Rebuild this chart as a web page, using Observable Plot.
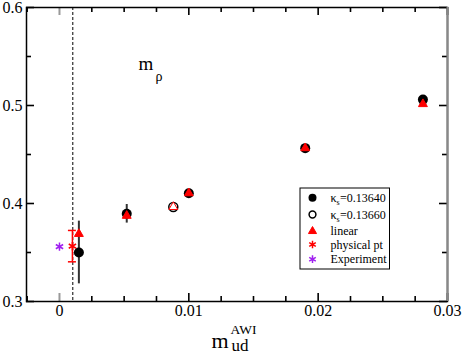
<!DOCTYPE html>
<html><head><meta charset="utf-8">
<script src="https://cdn.jsdelivr.net/npm/d3@7"></script>
<script src="https://cdn.jsdelivr.net/npm/@observablehq/plot@0.6"></script>
<style>
body{margin:0;background:#fff;font-family:"Liberation Serif",serif;}
#wrap svg text{font-family:"Liberation Serif",serif;}
#wrap svg text.sym{font-family:"DejaVu Sans",sans-serif;}
</style></head><body>
<div id="wrap"></div>
<script>
// ---- data ----
const k1X = [0.0015, 0.0052, 0.0100, 0.0190, 0.0281];
const k1Y = [0.350, 0.3895, 0.4105, 0.4565, 0.5060];
const k1Err = [0.032, 0.0095, 0.003, 0.003, 0.003];
const k2X = [0.0088];
const k2Y = [0.3965];
const k2Err = [0.003];
const linX = [0.0015, 0.0052, 0.0088, 0.0100, 0.0190, 0.0281];
const linY = [0.369, 0.3875, 0.3965, 0.4105, 0.4565, 0.5015];
const linOpen = [false, false, true, false, false, false];
const physX = [0.0010];
const physY = [0.3565];
const physErr = [0.016];
const expX = [0.0];
const expY = [0.3560];
const chiralX = [0.00103];
const xMajor = [0, 0.01, 0.02, 0.03];
const xMinor = [-0.0025, 0.0025, 0.005, 0.0075, 0.0125, 0.015, 0.0175, 0.0225, 0.025, 0.0275];
const yMajor = [0.3, 0.4, 0.5, 0.6];
const yMinor = [0.35, 0.45, 0.55];
const xTickLabels = ["0", "0.01", "0.02", "0.03"];
const yTickLabels = ["0.3", "0.4", "0.5", "0.6"];
const titleMain = "m", titleSub = "ρ";
const xLabelMain = "m", xLabelSub = "ud", xLabelSup = "AWI";
const legendNames = ["κ", "κ", "linear", "physical pt", "Experiment"];
const legendSubs = ["s", "s", "", "", ""];
const legendRest = ["=0.13640", "=0.13660", "", "", ""];

const k1 = k1X.map((x,i)=>({x, y:k1Y[i], e:k1Err[i]}));
const k2 = k2X.map((x,i)=>({x, y:k2Y[i], e:k2Err[i]}));
const lin = linX.map((x,i)=>({x, y:linY[i], open:linOpen[i]}));
const phys = physX.map((x,i)=>({x, y:physY[i], e:physErr[i]}));
const exp = expX.map((x,i)=>({x, y:expY[i]}));
const xNonZero = xMajor.filter(d=>d!==0);
const xZero = xMajor.filter(d=>d===0);
const FONT = "Liberation Serif";

const W = 463, H = 353, ML = 26, MR = 16, MT = 7, MB = 52;
const FW = W - ML - MR, FH = H - MT - MB;

// inward ticks drawn as short rules (inset from the opposite side)
const xTicks = (vals, len, opts={}) => [
  Plot.ruleX(vals, {insetTop: FH - len, stroke: "#000", strokeWidth: 1.6, ...opts}),
  Plot.ruleX(vals, {insetBottom: FH - len, stroke: "#000", strokeWidth: 1.6, ...opts})
];
const yTicks = (vals, len) => [
  Plot.ruleY(vals, {insetRight: FW - len, stroke: "#000", strokeWidth: 1.6}),
  Plot.ruleY(vals, {insetLeft: FW - len, stroke: "#000", strokeWidth: 1.6})
];

// fixed-position text helper (relative to the frame's top-left corner)
const label = (str, dx, dy, size, extra={}) =>
  Plot.text([str], {frameAnchor: "top-left", text: d=>d, dx, dy, fontSize: size, fontFamily: FONT,
    textAnchor: "start", lineAnchor: "bottom", fill: "black", ...extra});

const legRows = [190.3, 207, 223.7, 237, 251.7];
const legSym = [
  {symbol: "circle", r: 4, fill: "black"},
  {symbol: "circle", r: 3.4, fill: "white", stroke: "black", strokeWidth: 1.5},
  {symbol: "triangle", r: 3, fill: "red", stroke: "red", strokeWidth: 1},
  {symbol: "asterisk", r: 3.6, stroke: "red", strokeWidth: 1.5},
  {symbol: "asterisk", r: 3.6, stroke: "#a020f0", strokeWidth: 1.5}
];
const legendMarks = [];
legRows.forEach((dy, i) => {
  legendMarks.push(Plot.dot([i], {frameAnchor: "top-left", dx: 286, dy, ...legSym[i]}));
  legendMarks.push(label(legendNames[i], 304, dy + 4, 12));
  if (legendSubs[i]) {
    legendMarks.push(label(legendSubs[i], 310, dy + 7, 8));
    legendMarks.push(label(legendRest[i], 313.5, dy + 4, 12));
  }
});

const chart = Plot.plot({
  width: W, height: H,
  marginLeft: ML, marginRight: MR, marginTop: MT, marginBottom: MB,
  style: {background: "white", overflow: "visible", fontFamily: FONT},
  x: {type: "linear", domain: [-0.00255, 0.03], axis: null},
  y: {type: "linear", domain: [0.3, 0.6], axis: null},
  marks: [
    // inward ticks
    ...xTicks(xMinor, 5),
    ...xTicks(xNonZero, 8),
    ...xTicks(xZero, 8, {stroke: "#999", strokeWidth: 2}),
    ...yTicks(yMinor, 5),
    ...yTicks(yMajor, 8),
    // tick labels
    Plot.text(xMajor, {x: d=>d, frameAnchor: "bottom", dy: 3, lineAnchor: "top", textAnchor: "middle",
      text: (d,i)=>xTickLabels[i], fontSize: 16, fontFamily: FONT, fill: "black"}),
    Plot.text(yMajor, {y: d=>d, frameAnchor: "left", dx: -4, lineAnchor: "middle", textAnchor: "end",
      text: (d,i)=>yTickLabels[i], fontSize: 16, fontFamily: FONT, fill: "black"}),
    // frame
    Plot.frame({stroke: "black", strokeWidth: 1.5}),
    Plot.ruleX([0.03], {stroke: "#888", strokeWidth: 2}),
    // chiral line
    Plot.ruleX(chiralX, {stroke: "black", strokeWidth: 1, strokeDasharray: "3,2"}),
    // error bars
    Plot.ruleX(k1, {x: "x", y1: d=>d.y-d.e, y2: d=>d.y+d.e, stroke: "#333", strokeWidth: 2}),
    Plot.ruleX(k2, {x: "x", y1: d=>d.y-d.e, y2: d=>d.y+d.e, stroke: "#333", strokeWidth: 2}),
    Plot.ruleX(phys, {x: "x", y1: d=>d.y-d.e, y2: d=>d.y+d.e, stroke: "red", strokeWidth: 1.5}),
    Plot.ruleY(phys, {y: d=>d.y-d.e, x1: "x", x2: "x", insetLeft: -4, insetRight: -4, stroke: "red", strokeWidth: 1.5}),
    Plot.ruleY(phys, {y: d=>d.y+d.e, x1: "x", x2: "x", insetLeft: -4, insetRight: -4, stroke: "red", strokeWidth: 1.5}),
    // points
    Plot.dot(k1, {x: "x", y: "y", r: 5, fill: "black"}),
    Plot.dot(k2, {x: "x", y: "y", r: 4.5, fill: "white", stroke: "black", strokeWidth: 1.5}),
    Plot.dot(lin, {x: "x", y: "y", symbol: "triangle", r: 3.3, fill: d=>d.open ? "white" : "red", stroke: "red", strokeWidth: 1}),
    Plot.dot(phys, {x: "x", y: "y", symbol: "asterisk", r: 4, stroke: "red", strokeWidth: 1.5}),
    Plot.dot(exp, {x: "x", y: "y", symbol: "asterisk", r: 4, stroke: "#a020f0", strokeWidth: 1.5}),
    // title and axis label
    label(titleMain, 112, 62, 19),
    label(titleSub, 129, 73, 14, {className: "sym"}),
    label(xLabelMain, 185, 340.5, 22),
    label(xLabelSub, 205, 343, 17),
    label(xLabelSup, 204, 326, 13.5),
    // legend
    Plot.frame({insetLeft: 273.5, insetTop: 180.5, insetRight: 58, insetBottom: 32.5, fill: "white", stroke: "black", strokeWidth: 1}),
    ...legendMarks
  ]
});
chart.querySelectorAll("text").forEach(t => { if (!t.closest(".sym")) t.style.fontFamily = '"Liberation Serif", serif'; });
document.getElementById("wrap").appendChild(chart);
</script>
</body></html>
